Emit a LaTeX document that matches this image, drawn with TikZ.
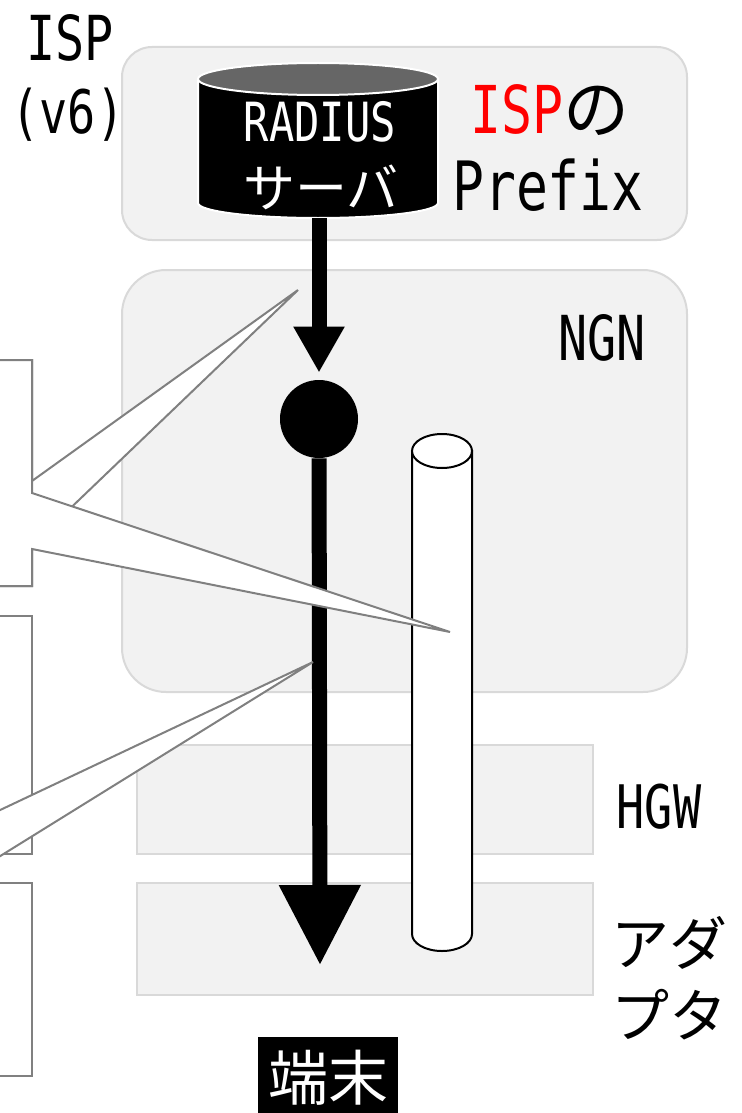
\documentclass[tikz,border=0pt]{standalone}
\usepackage{fontspec}
\newfontfamily\monofont[FakeStretch=0.78]{DejaVu Sans Mono}
\newfontfamily\jpfont{Noto Sans CJK JP}
\usetikzlibrary{arrows.meta}
\definecolor{panel}{HTML}{F2F2F2}
\definecolor{panelline}{HTML}{D9D9D9}
\definecolor{callline}{HTML}{808080}
\definecolor{servertop}{HTML}{666666}
\tikzset{
  layer/.style={fill=panel, draw=panelline, line width=1pt},
  callout/.style={fill=white, draw=callline, line width=1pt, line join=miter},
  lbl/.style={inner sep=0pt, font=\monofont\fontsize{31}{31}\selectfont},
  flow/.style={line width=7.5pt},
}
\begin{document}
\begin{tikzpicture}[x=0.5pt, y=-0.5pt]
      \clip (0,0) rectangle (742,1113);
      % layers
      \draw[layer, rounded corners=15pt] (122,47) rectangle (687,240);
      \draw[layer, rounded corners=22pt] (122,270) rectangle (687,692);
      \draw[layer] (137,745) rectangle (593,854);
      \draw[layer] (137,883) rectangle (593,995);
      % RADIUS server
      \filldraw[fill=black, draw=white, line width=1pt]
        (198,79) -- (198,203) arc[start angle=180, end angle=0, x radius=120, y radius=15]
        -- (438,79) -- cycle;
      \filldraw[fill=servertop, draw=white, line width=1pt] (318,79) ellipse[x radius=120, y radius=16];
      \coordinate (srv) at (319,218);
      \node[circle, fill=black, minimum size=39pt, inner sep=0pt] (hub) at (319,419) {};
      \coordinate (end) at (320,965);
      \draw[flow, -{Triangle[width=24pt, length=23pt]}, shorten >=3.5pt] (srv) -- (hub);
      \draw[flow, -{Triangle[width=39pt, length=40pt]}] (hub) -- (end);
      % pipe
      \filldraw[fill=white, draw=black, line width=1pt]
        (412,451) -- (412,934) arc[start angle=180, end angle=0, x radius=30, y radius=17]
        -- (472,451) -- cycle;
      \filldraw[fill=white, draw=black, line width=1pt] (442,451) ellipse[x radius=30, y radius=17];
      % callouts
      \draw[callout] (-10,360) -- (32,360) -- (32,481) -- (298,290) -- (32,545)
        -- (32,586) -- (-10,586) -- cycle;
      \draw[callout] (-10,360) -- (32,360) -- (32,493) -- (450,632) -- (32,549)
        -- (32,586) -- (-10,586) -- cycle;
      \draw[callout] (-10,616) rectangle (32,854);
      \draw[callout] (-10,883) rectangle (32,1076);
      \draw[callout] (-40,829) -- (313,662) -- (-40,881) -- cycle;
      % labels
      \node[lbl] (isp) at (70,38) {ISP};
      \node[lbl, font=\monofont\fontsize{30}{30}\selectfont] (ispv6) at (68,115) {(v6)};
      \node[lbl, font=\monofont\fontsize{27}{27}\selectfont, text=white] (radius) at (320,122) {RADIUS};
      \node[lbl, font=\jpfont\fontsize{26}{26}\selectfont, text=white] (server) at (321,187) {サーバ};
      \node[lbl, font=\monofont\fontsize{33}{33}\selectfont] (ispno) at (550,110)
        {\textcolor{red}{ISP}{\jpfont の}};
      \node[lbl, font=\monofont\fontsize{34}{34}\selectfont] (prefix) at (548,185) {Prefix};
      \node[lbl] (ngn) at (602,338) {NGN};
      \node[lbl, font=\monofont\fontsize{30}{30}\selectfont] (hgw) at (659,807) {HGW};
      \node[lbl, font=\jpfont\fontsize{29}{36}\selectfont, align=left] (adapter) at (669,978)
        {アダ\\プタ};
      \node[fill=black, text=white, font=\jpfont\fontsize{30}{30}\selectfont,
        minimum width=70pt, minimum height=41pt, inner sep=0pt] (term) at (328,1078) {端末};
\end{tikzpicture}
\end{document}
